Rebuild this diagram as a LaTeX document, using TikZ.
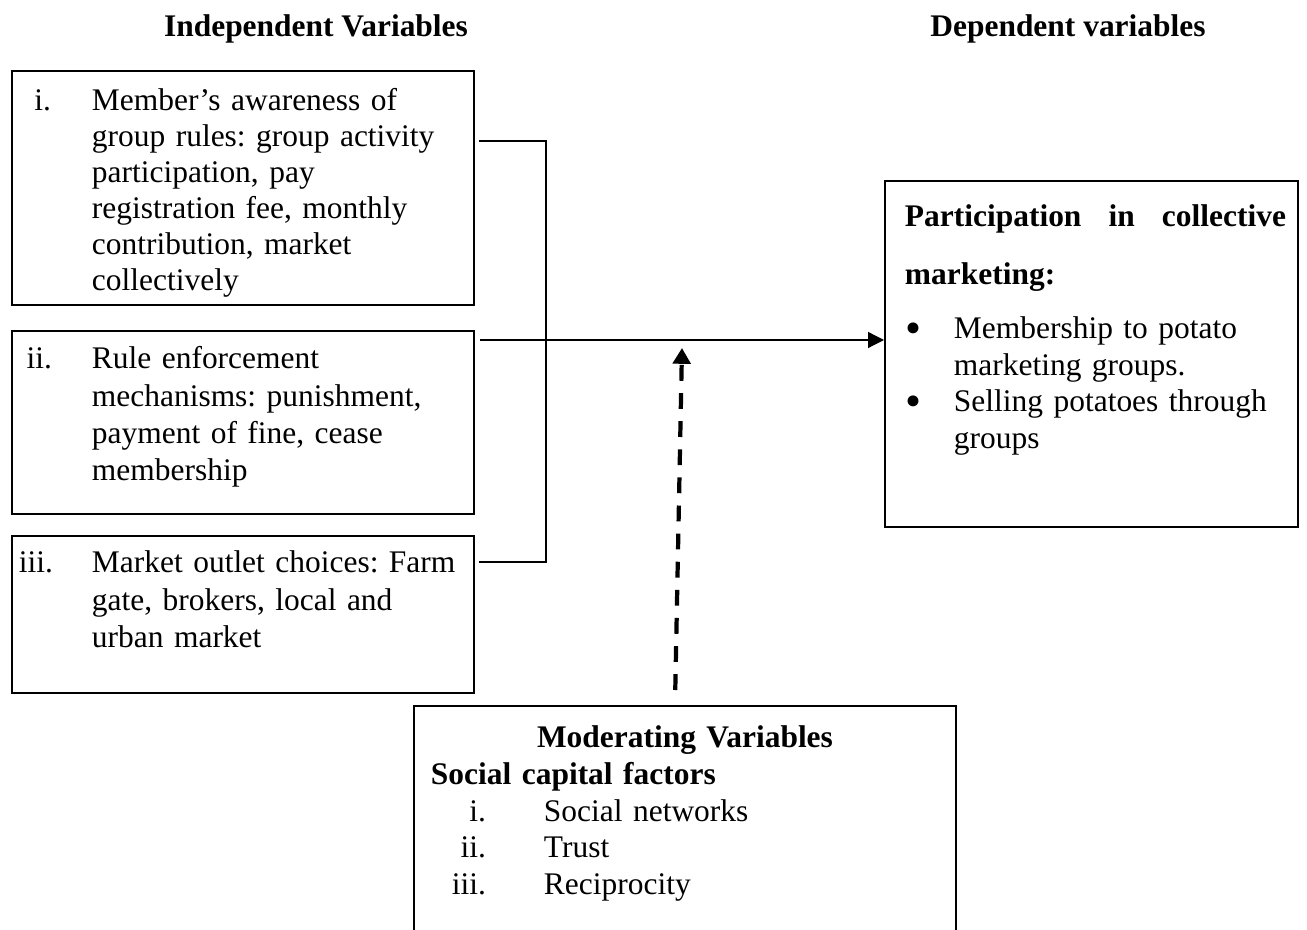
\documentclass[tikz,border=0pt]{standalone}
\usepackage{fontspec}
\setmainfont{Liberation Serif}
\usetikzlibrary{arrows.meta}
\frenchspacing

\newcommand{\numlab}[3]{\makebox[#2][l]{\makebox[#1][r]{#3}}}
\newcommand{\bigbullet}{\makebox[1.38cm][l]{\hspace*{0.42cm}\raisebox{-2.6pt}{\fontsize{26}{26}\selectfont\textbullet}}}
\newcommand{\bodyfont}{\fontsize{17.9}{20.8}\selectfont}

\tikzset{
  varbox/.style={draw, line width=1.1pt, anchor=north west, inner sep=0pt, align=left},
  title/.style={anchor=base, font=\bodyfont\bfseries},
  link/.style={line width=0.7pt},
  modlink/.style={line width=2.4pt, dash pattern=on 9pt off 7pt, -{Triangle[length=9pt, width=10pt]}}
}

\begin{document}
\begin{tikzpicture}[font=\bodyfont]
    \useasboundingbox (0,0) rectangle (26.14,-18.6);

    \node[title] (indt) at (6.32,-0.74) {Independent Variables};
    \node[title] (dept) at (21.36,-0.74) {Dependent variables};

    % independent variables
    \node[varbox, text width=9.24cm, text height=0.80cm, text depth=3.88cm] (ind1) at (0.22,-1.40) {%
        \renewcommand{\arraystretch}{0.98}%
        \begin{tabular}[t]{@{}l@{}l@{}}
        \numlab{0.78cm}{1.6cm}{i.} & Member’s awareness of\\
         & group rules: group activity\\
         & participation, pay\\
         & registration fee, monthly\\
         & contribution, market\\
         & collectively
        \end{tabular}};
    \node[varbox, text width=9.24cm, text height=0.76cm, text depth=2.90cm] (ind2) at (0.22,-6.60) {%
        \renewcommand{\arraystretch}{1.02}%
        \begin{tabular}[t]{@{}l@{}l@{}}
        \numlab{0.8cm}{1.6cm}{ii.} & Rule enforcement\\
         & mechanisms: punishment,\\
         & payment of fine, cease\\
         & membership
        \end{tabular}};
    \node[varbox, text width=9.24cm, text height=0.74cm, text depth=2.40cm] (ind3) at (0.22,-10.70) {%
        \renewcommand{\arraystretch}{1.02}%
        \begin{tabular}[t]{@{}l@{}l@{}}
        \numlab{0.82cm}{1.6cm}{iii.} & Market outlet choices: Farm\\
         & gate, brokers, local and\\
         & urban market
        \end{tabular}};

    % dependent variable
    \node[varbox, text width=8.26cm, text height=0.92cm, text depth=6.00cm] (dep) at (17.68,-3.60) {%
        \begin{tabular}[t]{@{}l@{}l@{}}
        \multicolumn{2}{@{}l@{}}{\hspace*{0.4cm}\makebox[7.62cm]{\bfseries Participation\hfill in\hfill collective}}\\[0.42cm]
        \multicolumn{2}{@{}l@{}}{\hspace*{0.4cm}\bfseries marketing:}\\[0.35cm]
        \bigbullet & Membership to potato\\
         & marketing groups.\\
        \bigbullet & Selling potatoes through\\
         & groups
        \end{tabular}};

    % moderating variables
    \node[varbox, text width=10.84cm, text height=0.84cm, text depth=3.90cm] (mod) at (8.26,-14.10) {%
        \begin{tabular}[t]{@{}l@{}l@{}}
        \multicolumn{2}{@{}l@{}}{\makebox[10.84cm]{\bfseries Moderating Variables}}\\
        \multicolumn{2}{@{}l@{}}{\hspace*{0.34cm}\bfseries Social capital factors}\\
        \numlab{1.44cm}{2.6cm}{i.} & Social networks\\
        \numlab{1.44cm}{2.6cm}{ii.} & Trust\\
        \numlab{1.44cm}{2.6cm}{iii.} & Reciprocity
        \end{tabular}};

    \coordinate (jt) at (10.92,-2.82);
    \coordinate (jb) at (10.92,-11.24);
    \coordinate (arow) at (0,-6.80);
    \coordinate (mtip) at (13.64,-6.96);

    \draw[link, shorten <=0.08cm, shorten >=0.08cm] (ind1.east |- jt) -- (jt) -- (jb) -- (ind3.east |- jb);
    \draw[link, shorten <=0.1cm, -{Triangle[length=9pt, width=9pt]}] (ind2.east |- arow) -- (dep.west |- arow);
    \draw[modlink, shorten <=0.3cm] ([xshift=-0.2cm]mod.north) -- (mtip);
\end{tikzpicture}
\end{document}
